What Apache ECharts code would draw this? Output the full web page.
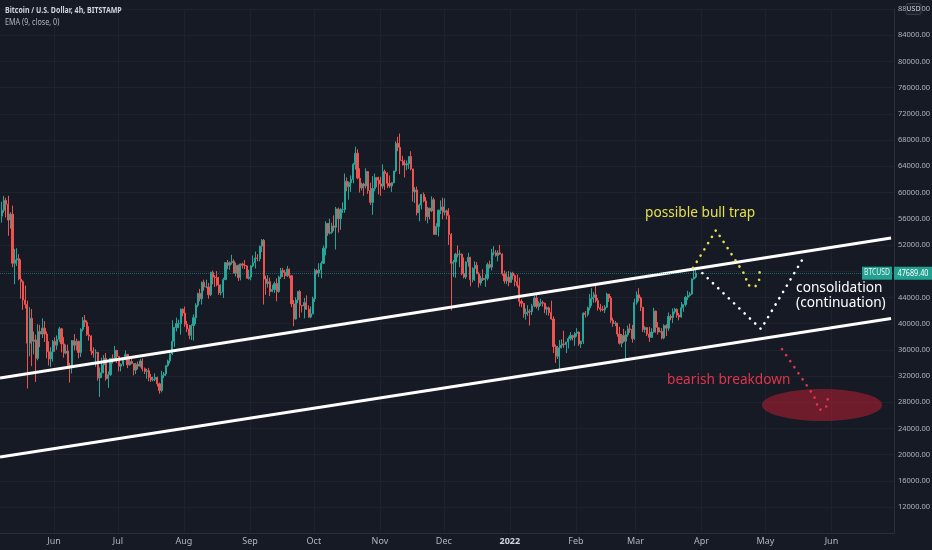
<!DOCTYPE html>
<html>
<head>
<meta charset="utf-8">
<script src="https://cdn.jsdelivr.net/npm/echarts@6/dist/echarts.min.js"></script>
<style>
  html, body { margin: 0; padding: 0; background: #161a25; }
  #chart { width: 932px; height: 550px; }
</style>
</head>
<body>
<div id="chart"></div>
<script>
// BTCUSD daily candles, prices in thousands of USD
// first candle is 2021-05-07, one value per day, open = previous close
var firstDay = [2021, 4, 7];
var firstOpen = 56.4;

var closes = [
  57.3,58.8,58.2,55.8,56.7,49.2,49.7,49.9,46.8,46.4,43.6,42.9,37.0,40.8,37.3,37.5,34.7,38.8,38.4,39.3,38.4,35.7,34.6,35.7,37.3,
  36.7,37.6,39.2,36.9,35.5,35.8,33.6,33.4,37.4,36.7,37.3,35.6,39.1,40.5,40.2,38.3,38.1,35.8,35.5,35.6,31.7,32.5,33.7,34.7,31.6,32.2,34.7,34.5,35.9,35.0,
  33.5,33.8,34.7,35.3,33.7,34.2,33.9,32.9,33.8,33.5,34.3,33.1,32.7,32.8,31.8,31.4,31.5,31.8,30.8,29.8,32.1,32.3,33.6,34.3,35.4,37.3,39.4,40.0,40.0,42.2,41.6,
  39.9,39.2,38.2,39.7,40.9,42.8,44.6,43.8,46.3,45.6,45.6,44.4,47.8,47.1,47.0,45.9,44.7,44.8,46.7,49.3,48.9,49.3,49.5,47.7,48.9,47.0,49.1,48.9,48.8,46.9,47.1,
  48.8,49.3,50.0,49.9,51.8,52.7,46.8,46.1,46.4,44.9,45.2,46.1,44.9,47.1,48.1,47.8,47.3,48.3,47.3,43.0,40.7,43.6,44.9,42.8,42.7,43.2,42.2,41.0,41.5,43.8,
  48.1,47.7,48.2,49.2,51.5,55.3,53.8,53.9,54.9,54.7,57.5,56.0,57.4,57.4,61.7,60.9,61.5,62.0,64.3,66.0,62.2,60.7,61.3,61.0,63.2,60.3,58.5,60.6,62.3,61.9,61.3,
  61.0,63.2,62.9,61.4,61.0,61.5,63.3,67.5,66.9,64.9,64.8,64.2,64.4,65.5,63.6,60.1,60.4,56.9,58.1,59.7,58.7,56.3,57.6,57.2,58.9,53.6,54.8,57.3,57.8,57.0,
  57.2,56.5,53.6,49.2,49.4,50.6,50.5,50.6,47.6,47.1,49.4,50.1,46.7,48.4,48.9,47.6,46.2,46.9,46.7,46.9,49.0,48.6,50.8,50.8,50.4,50.8,50.6,47.6,46.5,47.1,46.3,
  47.7,47.3,46.4,45.8,43.4,43.1,41.5,41.7,41.9,41.8,42.7,43.9,42.6,43.1,43.2,43.1,42.2,42.4,41.7,40.7,36.5,35.0,36.3,36.7,36.9,36.8,37.2,37.7,38.2,37.9,38.5,
  38.7,36.9,37.3,41.6,41.4,42.4,43.8,44.0,44.4,43.5,42.4,42.2,42.1,42.5,44.5,43.9,40.5,40.0,40.1,38.4,37.0,38.2,37.3,38.3,39.2,39.1,37.7,43.2,
  44.4,43.9,42.5,39.1,39.4,38.4,37.9,38.7,41.9,39.4,38.7,38.8,37.8,39.7,39.3,41.1,40.9,41.8,42.2,41.3,41.0,42.4,42.9,44.0,44.3,44.5,46.8,47.1,47.6894
];

var highs = [
  58.6,59.5,59.2,59.5,57.0,58.0,51.4,51.5,50.6,49.8,46.6,45.8,43.5,42.5,42.2,38.8,38.3,39.9,39.8,40.8,40.4,38.8,37.3,36.4,37.5,
  37.9,38.2,39.5,39.3,37.9,36.8,36.8,34.0,37.5,38.4,37.7,37.4,39.3,41.0,41.3,40.5,39.6,38.2,36.4,36.1,35.7,33.3,34.8,35.2,35.5,32.7,34.7,35.3,36.6,36.0,
  35.0,33.9,34.9,35.9,35.3,35.0,35.0,33.9,34.0,34.2,34.6,34.7,33.3,33.1,33.2,32.3,31.9,32.4,31.9,31.0,32.8,32.6,33.6,34.5,35.4,40.5,39.5,40.9,40.6,42.3,42.3,
  42.6,40.4,39.8,39.9,41.4,43.1,44.7,45.3,46.4,46.7,46.7,46.2,47.9,48.1,47.4,48.0,47.1,46.0,47.0,49.3,49.7,49.5,50.5,49.8,49.3,49.0,49.2,49.3,49.7,48.9,48.2,
  48.9,50.4,51.0,50.6,51.9,52.9,52.9,47.3,47.4,47.0,45.9,46.4,46.9,47.3,48.5,48.5,48.2,48.8,48.4,47.4,43.6,44.0,45.0,45.1,42.8,43.9,44.3,42.8,42.6,44.1,
  48.4,48.3,49.2,49.5,51.9,55.6,55.3,56.0,55.4,56.5,57.8,57.7,57.6,58.5,62.9,62.3,61.7,62.6,64.5,67.0,66.6,63.7,61.5,61.5,63.7,63.3,61.5,62.5,62.9,62.3,62.4,
  62.4,64.3,63.5,63.1,62.6,61.6,63.3,67.8,68.5,69.0,65.6,65.0,64.9,65.5,66.3,63.6,60.8,60.9,58.3,59.8,60.0,59.3,57.8,57.7,59.4,59.2,55.3,57.4,58.8,59.2,
  59.1,57.4,57.6,53.8,49.7,50.8,51.9,51.2,50.7,50.1,49.5,50.8,50.2,48.6,49.5,49.4,47.9,47.3,48.3,47.5,49.3,49.6,51.4,51.8,51.2,51.2,52.0,50.7,48.1,47.9,48.0,
  47.9,47.9,47.5,47.5,47.0,43.7,43.1,42.3,42.8,42.2,43.0,44.3,44.4,43.4,43.8,43.5,43.2,42.6,42.6,43.5,41.1,36.8,36.6,37.5,37.6,38.9,37.2,38.0,38.7,38.3,38.7,
  39.3,38.8,37.4,41.7,41.9,42.6,44.5,45.4,44.8,45.8,43.9,43.0,42.7,42.8,44.7,44.5,44.2,40.9,40.4,40.1,39.5,38.4,39.2,38.9,39.7,40.0,39.8,43.8,
  44.9,45.4,44.1,42.5,39.6,39.4,39.5,39.3,42.4,42.0,40.2,39.4,39.3,39.9,39.9,41.7,41.4,42.3,42.4,42.3,41.6,43.3,42.9,44.2,45.0,44.8,46.9,48.2,48.2
];

var lows = [
  55.4,56.9,56.2,53.4,54.5,48.6,46.0,48.8,46.6,43.8,42.1,42.3,30.1,35.0,33.5,35.3,31.1,34.4,36.4,37.8,37.2,34.7,33.6,33.4,34.2,
  35.7,36.0,37.2,35.6,34.8,35.3,33.4,31.0,32.4,35.9,35.9,34.7,34.9,38.8,39.5,38.1,37.4,35.2,34.8,33.4,31.3,28.8,31.7,32.4,31.3,30.2,32.0,33.9,34.3,34.0,
  32.7,32.7,33.5,34.4,33.2,33.6,33.8,32.1,32.3,33.0,33.3,32.7,32.3,31.6,31.2,31.1,31.2,31.2,30.4,29.3,29.5,31.7,32.0,33.4,33.9,35.2,36.4,38.8,39.3,38.3,41.1,
  39.5,38.7,37.6,37.5,37.4,39.9,42.5,43.4,42.9,45.0,45.4,43.8,44.2,46.0,45.6,45.7,44.4,44.3,43.9,46.7,48.3,48.2,49.0,47.7,47.2,46.5,46.6,48.4,48.3,46.9,46.7,
  46.6,48.6,48.4,49.5,49.5,50.9,42.9,44.4,45.5,44.2,44.8,44.7,43.4,44.7,46.8,47.1,46.8,47.1,46.9,42.5,39.6,40.6,43.1,40.9,41.7,40.8,42.1,40.9,40.8,41.4,
  43.3,47.5,47.1,46.9,49.1,50.4,53.4,53.6,53.7,54.1,51.3,53.9,54.3,56.9,56.9,60.2,58.9,60.1,61.4,63.5,62.0,60.0,60.3,59.5,60.6,59.8,58.1,56.6,60.2,60.8,59.7,
  59.5,60.6,60.4,60.7,60.7,60.1,61.4,63.1,66.3,62.8,64.1,62.3,63.4,63.6,63.4,58.6,58.4,56.5,55.6,57.4,58.5,55.7,55.3,55.9,57.0,53.6,53.7,53.3,56.7,55.9,
  56.5,55.9,52.0,42.0,47.1,47.0,50.1,48.6,47.4,46.9,46.8,48.7,45.7,46.3,46.5,47.6,45.5,45.8,46.5,45.6,46.6,48.4,48.1,50.4,50.2,49.5,50.5,47.3,46.1,46.0,45.7,
  46.2,46.7,45.7,45.5,42.6,42.5,40.9,40.6,41.2,39.7,41.3,42.5,42.3,42.0,42.7,42.6,41.6,41.3,41.2,40.6,35.5,34.0,34.6,33.0,36.2,36.3,35.5,36.2,37.4,37.4,36.6,
  38.0,36.6,36.3,36.9,40.9,41.1,42.0,42.7,43.2,43.2,42.0,41.8,41.9,41.6,42.4,43.3,40.1,39.5,39.6,38.0,36.8,36.4,37.1,34.3,38.0,38.6,37.1,37.5,
  42.9,43.4,41.9,38.7,38.6,38.1,37.2,37.9,38.6,38.6,38.3,38.7,37.6,37.6,38.1,38.9,40.5,40.1,41.5,40.9,40.5,40.9,41.8,42.6,43.6,44.1,44.4,46.7,46.9
];

var lastPrice = 47689.40;

// month ticks on the date axis
var monthTicks = ['2021-06-01','2021-07-01','2021-08-01','2021-09-01','2021-10-01','2021-11-01','2021-12-01',
  '2022-01-01','2022-02-01','2022-03-01','2022-04-01','2022-05-01','2022-06-01'];
var monthNames = ['Jan','Feb','Mar','Apr','May','Jun','Jul','Aug','Sep','Oct','Nov','Dec'];

// drawings (date, price)
var upperChannel = [['2021-05-06 15:30', 31690], ['2022-06-29 00:00', 53070]];
var lowerChannel = [['2021-05-06 15:30', 19650], ['2022-06-29 00:00', 40780]];
var bullTrapPath = [['2022-03-28 00:00', 48470], ['2022-04-07 19:00', 54260], ['2022-04-21 10:00', 47400],
  ['2022-04-22 19:00', 45880], ['2022-04-26 02:00', 45570], ['2022-04-28 00:00', 46490], ['2022-04-28 12:00', 48770]];
var consolidationPath = [['2022-03-29 22:00', 48470], ['2022-04-28 22:00', 39170], ['2022-05-18 05:00', 49690]];
var breakdownPath = [['2022-05-08 19:00', 36110], ['2022-05-23 19:00', 28950], ['2022-05-26 05:00', 26810],
  ['2022-05-29 10:00', 27120], ['2022-05-30 19:00', 29250]];
var targetZone = [['2022-05-27 14:00', 27575]];
var targetHalfSize = [28.2 * 86400000, 2440];
var notes = [
  ['2022-03-05 12:00', 56860, 'possible bull trap'],
  ['2022-05-15 10:00', 44270, 'consolidation\n(continuation)'],
  ['2022-03-15 19:00', 31390, 'bearish breakdown']
];
var noteColors = ['#e7e04b', '#ffffff', '#e0344c'];

var uiFont = '"Noto Sans", "DejaVu Sans", sans-serif';

// 'YYYY-MM-DD HH:mm' -> local timestamp
function ts(s) {
  var m = s.match(/(\d+)-(\d+)-(\d+)(?: (\d+):(\d+))?/);
  return new Date(+m[1], +m[2] - 1, +m[3], +(m[4] || 0), +(m[5] || 0)).getTime();
}
function pts(list) {
  return list.map(function (p) { return [ts(p[0]), p[1]]; });
}

var candles = [];
for (var i = 0; i < closes.length; i++) {
  var t = new Date(firstDay[0], firstDay[1], firstDay[2] + i, 12).getTime();
  var o = i === 0 ? firstOpen : closes[i - 1];
  candles.push([t, o * 1000, closes[i] * 1000, lows[i] * 1000, highs[i] * 1000]);
}
var tickTimes = monthTicks.map(ts);

var xMin = new Date(2021, 4, 6, 15).getTime();
var xMax = new Date(2022, 5, 30, 9).getTime();

function dottedLine(data, color) {
  return {
    type: 'line', data: pts(data), symbol: 'none', silent: true, z: 5,
    lineStyle: { color: color, width: 2.6, type: [0.1, 7.2], cap: 'round' }
  };
}

var chart = echarts.init(document.getElementById('chart'));
chart.setOption({
  backgroundColor: '#161a25',
  animation: false,
  grid: { left: 0, right: 38, top: 9, bottom: 16.7, outerBoundsMode: 'none', containLabel: false },
  xAxis: {
    type: 'value', min: xMin, max: xMax, scale: true,
    axisLine: { show: true, lineStyle: { color: '#2a2e39' } },
    axisTick: { show: false, customValues: tickTimes },
    axisLabel: {
      customValues: tickTimes, color: '#b2b5be', fontSize: 9, fontFamily: uiFont, margin: 4,
      hideOverlap: false,
      formatter: function (v) {
        var d = new Date(v);
        return d.getMonth() === 0 ? '{y|' + d.getFullYear() + '}' : monthNames[d.getMonth()];
      },
      rich: { y: { color: '#d1d4dc', fontSize: 9, fontWeight: 'bold', fontFamily: uiFont } }
    },
    splitLine: { show: true, lineStyle: { color: '#1e222d', width: 1 } }
  },
  yAxis: {
    type: 'value', position: 'right', min: 8000, max: 88000, interval: 4000,
    axisLine: { show: true, lineStyle: { color: '#2a2e39' } },
    axisTick: { show: false },
    splitLine: { show: true, lineStyle: { color: '#1e222d', width: 1 } },
    axisLabel: {
      color: '#b2b5be', fontSize: 7.5, fontFamily: uiFont, margin: 4,
      formatter: function (v) { return v < 10000 ? '' : v.toFixed(2); }
    }
  },
  series: [
    {
      type: 'custom', data: pts(targetZone), encode: { x: 0, y: 1 }, silent: true, z: 1,
      renderItem: function (params, api) {
        var c = api.coord([api.value(0), api.value(1)]);
        var s = api.size(targetHalfSize);
        return { type: 'ellipse', shape: { cx: c[0], cy: c[1], rx: s[0], ry: s[1] },
          style: { fill: 'rgba(170,30,50,0.6)' } };
      }
    },
    {
      type: 'candlestick', data: candles, encode: { x: 0, y: [1, 2, 3, 4] },
      barWidth: 1.6, z: 3,
      itemStyle: {
        color: '#26a69a', color0: '#ef5350',
        borderColor: '#26a69a', borderColor0: '#ef5350', borderWidth: 1
      },
      markLine: {
        silent: true, symbol: ['none', 'none'], label: { show: false },
        lineStyle: { color: 'rgba(38,166,154,0.55)', type: 'dotted', width: 1 },
        data: [{ yAxis: lastPrice }]
      }
    },
    { type: 'line', data: pts(upperChannel), symbol: 'none', silent: true, z: 4,
      lineStyle: { color: '#ffffff', width: 3 } },
    { type: 'line', data: pts(lowerChannel), symbol: 'none', silent: true, z: 4,
      lineStyle: { color: '#ffffff', width: 3 } },
    dottedLine(bullTrapPath, '#e7e04b'),
    dottedLine(consolidationPath, '#ffffff'),
    dottedLine(breakdownPath, '#e0344c'),
    {
      type: 'custom', data: pts(notes), encode: { x: 0, y: 1 }, silent: true, z: 6,
      renderItem: function (params, api) {
        var c = api.coord([api.value(0), api.value(1)]);
        return { type: 'text', x: c[0], y: c[1], scaleX: 0.91,
          style: { text: notes[params.dataIndex][2], fill: noteColors[params.dataIndex],
            font: '15px ' + uiFont, verticalAlign: 'middle', align: 'left', lineHeight: 15 } };
      }
    }
  ]
});

// header texts, last price tags, currency badge
var py = chart.convertToPixel({ yAxisIndex: 0 }, lastPrice);
chart.setOption({
  graphic: [
    { type: 'text', x: 5, y: 6, scaleX: 0.78, style: { text: 'Bitcoin / U.S. Dollar, 4h, BITSTAMP', fill: '#d1d4dc', font: 'bold 9px ' + uiFont, verticalAlign: 'top' } },
    { type: 'text', x: 5, y: 18, scaleX: 0.8, style: { text: 'EMA (9, close, 0)', fill: '#b2b5be', font: '9px ' + uiFont, verticalAlign: 'top' } },
    { type: 'rect', shape: { x: 862, y: py - 6.5, width: 30, height: 13 }, style: { fill: '#22a191' }, z: 20 },
    { type: 'text', x: 877, y: py, scaleX: 0.85, style: { text: 'BTCUSD', fill: '#e8f5f3', font: '8px ' + uiFont, align: 'center', verticalAlign: 'middle' }, z: 21 },
    { type: 'rect', shape: { x: 894, y: py - 6.5, width: 38, height: 13 }, style: { fill: '#22a191' }, z: 20 },
    { type: 'text', x: 913, y: py, scaleX: 0.85, style: { text: '47689.40', fill: '#ffffff', font: '8.5px ' + uiFont, align: 'center', verticalAlign: 'middle' }, z: 21 },
    { type: 'rect', shape: { x: 906, y: 3.5, width: 15, height: 11, r: 2 }, style: { fill: '#1e222d', stroke: '#434651', lineWidth: 0.8 }, z: 20 },
    { type: 'text', x: 913.5, y: 9, style: { text: 'USD', fill: '#d1d4dc', font: '7px ' + uiFont, align: 'center', verticalAlign: 'middle' }, z: 21 }
  ]
});
</script>
</body>
</html>
